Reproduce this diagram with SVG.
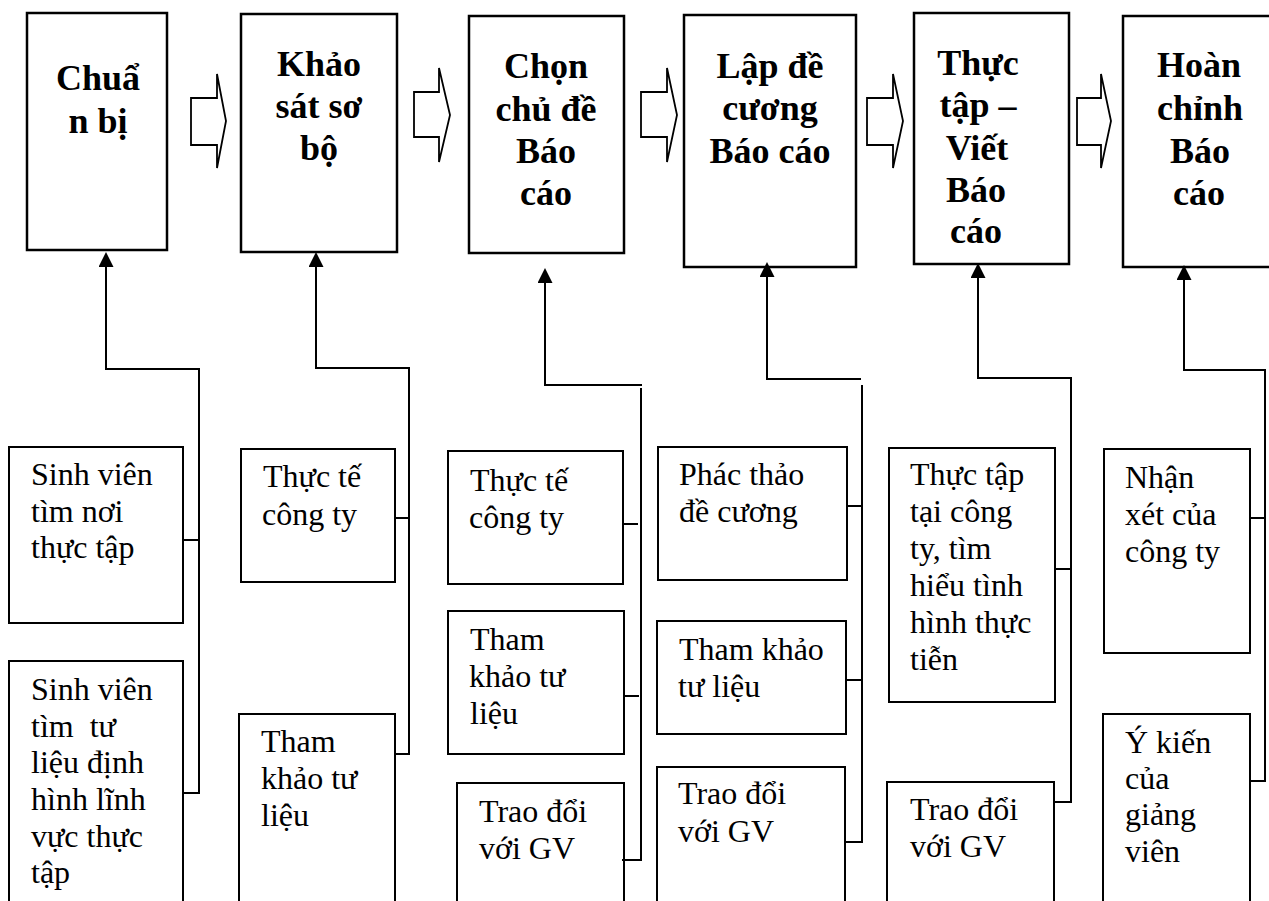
<svg xmlns="http://www.w3.org/2000/svg" width="1269" height="901" viewBox="0 0 1269 901">
<style>
.top{fill:#fff;stroke:#000;stroke-width:2.5}
.box{fill:#fff;stroke:#000;stroke-width:2}
.blk{fill:#fff;stroke:#000;stroke-width:1.8;stroke-linejoin:miter}
.ttl{font-family:"Liberation Serif","Times New Roman",serif;font-weight:bold;font-size:36px;text-anchor:middle;fill:#000}
.txt{font-family:"Liberation Serif","Times New Roman",serif;font-size:32px;fill:#000;white-space:pre}
.ln{fill:none;stroke:#000;stroke-width:2}
</style>
<defs>
<marker id="ah" viewBox="0 0 15 15" refX="0" refY="7.5" markerWidth="15" markerHeight="15" markerUnits="userSpaceOnUse" orient="auto">
<path d="M0,0 L15,7.5 L0,15 z" fill="#000"/>
</marker>
</defs>
<rect width="1269" height="901" fill="#fff"/>

<g id="flow-arrows">
<polygon class="blk" points="191,98 217,98 217,74 226,121 217,168 217,145 191,145"/>
<polygon class="blk" points="414,92 439,92 439,68 450,115 439,162 439,137 414,137"/>
<polygon class="blk" points="641,92 667,92 667,68 677,115 667,162 667,137 641,137"/>
<polygon class="blk" points="867,98 893,98 893,74 903,121 893,168 893,145 867,145"/>
<polygon class="blk" points="1077,98 1101,98 1101,74 1111,121 1101,168 1101,145 1077,145"/>
</g>

<g id="step1">
<rect class="top" x="27" y="13" width="140" height="237"/>
<text class="ttl" x="98" y="90">Chuẩ</text>
<text class="ttl" x="98" y="133">n bị</text>
</g>
<g id="step2">
<rect class="top" x="241" y="14" width="156" height="238"/>
<text class="ttl" x="319" y="76">Khảo</text>
<text class="ttl" x="319" y="118">sát sơ</text>
<text class="ttl" x="319" y="160">bộ</text>
</g>
<g id="step3">
<rect class="top" x="469" y="16" width="155" height="237"/>
<text class="ttl" x="546" y="78">Chọn</text>
<text class="ttl" x="546" y="121">chủ đề</text>
<text class="ttl" x="546" y="163">Báo</text>
<text class="ttl" x="546" y="205">cáo</text>
</g>
<g id="step4">
<rect class="top" x="684" y="15" width="172" height="252"/>
<text class="ttl" x="770" y="78">Lập đề</text>
<text class="ttl" x="770" y="120">cương</text>
<text class="ttl" x="770" y="163">Báo cáo</text>
</g>
<g id="step5">
<rect class="top" x="914" y="13" width="155" height="251"/>
<text class="ttl" x="978" y="75">Thực</text>
<text class="ttl" x="978" y="117">tập –</text>
<text class="ttl" x="977" y="160">Viết</text>
<text class="ttl" x="976" y="202">Báo</text>
<text class="ttl" x="976" y="243">cáo</text>
</g>
<g id="step6">
<rect class="top" x="1123" y="16" width="155" height="251"/>
<text class="ttl" x="1199" y="77">Hoàn</text>
<text class="ttl" x="1200" y="120">chỉnh</text>
<text class="ttl" x="1200" y="163">Báo</text>
<text class="ttl" x="1199" y="205">cáo</text>
</g>

<g id="c1a">
<rect class="box" x="9" y="447" width="174" height="176"/>
<text class="txt" x="31" y="485">Sinh viên</text>
<text class="txt" x="31" y="522">tìm nơi</text>
<text class="txt" x="31" y="558">thực tập</text>
</g>
<g id="c1b">
<rect class="box" x="9" y="661" width="174" height="260"/>
<text class="txt" x="31" y="700">Sinh viên</text>
<text class="txt" x="31" y="737">tìm  tư</text>
<text class="txt" x="31" y="773">liệu định</text>
<text class="txt" x="31" y="810">hình lĩnh</text>
<text class="txt" x="31" y="847">vực thực</text>
<text class="txt" x="31" y="883">tập</text>
</g>

<g id="c2a">
<rect class="box" x="241" y="449" width="154" height="133"/>
<text class="txt" x="263" y="487">Thực tế</text>
<text class="txt" x="262" y="525">công ty</text>
</g>
<g id="c2b">
<rect class="box" x="239" y="714" width="156" height="210"/>
<text class="txt" x="261" y="752">Tham</text>
<text class="txt" x="261" y="789">khảo tư</text>
<text class="txt" x="261" y="826">liệu</text>
</g>

<g id="c3a">
<rect class="box" x="448" y="451" width="175" height="133"/>
<text class="txt" x="470" y="491">Thực tế</text>
<text class="txt" x="469" y="528">công ty</text>
</g>
<g id="c3b">
<rect class="box" x="448" y="611" width="176" height="143"/>
<text class="txt" x="470" y="650">Tham</text>
<text class="txt" x="469" y="687">khảo tư</text>
<text class="txt" x="470" y="724">liệu</text>
</g>
<g id="c3c">
<rect class="box" x="457" y="783" width="167" height="140"/>
<text class="txt" x="479" y="822">Trao đổi</text>
<text class="txt" x="479" y="859">với GV</text>
</g>

<g id="c4a">
<rect class="box" x="658" y="447" width="189" height="133"/>
<text class="txt" x="679" y="485">Phác thảo</text>
<text class="txt" x="679" y="522">đề cương</text>
</g>
<g id="c4b">
<rect class="box" x="657" y="621" width="189" height="113"/>
<text class="txt" x="679" y="660">Tham khảo</text>
<text class="txt" x="678" y="697">tư liệu</text>
</g>
<g id="c4c">
<rect class="box" x="657" y="767" width="188" height="160"/>
<text class="txt" x="678" y="804">Trao đổi</text>
<text class="txt" x="678" y="842">với GV</text>
</g>

<g id="c5a">
<rect class="box" x="889" y="448" width="166" height="254"/>
<text class="txt" x="910" y="485">Thực tập</text>
<text class="txt" x="910" y="522">tại công</text>
<text class="txt" x="910" y="559">ty, tìm</text>
<text class="txt" x="910" y="596">hiểu tình</text>
<text class="txt" x="910" y="633">hình thực</text>
<text class="txt" x="910" y="670">tiễn</text>
</g>
<g id="c5b">
<rect class="box" x="887" y="782" width="167" height="140"/>
<text class="txt" x="910" y="820">Trao đổi</text>
<text class="txt" x="910" y="857">với GV</text>
</g>

<g id="c6a">
<rect class="box" x="1104" y="449" width="146" height="204"/>
<text class="txt" x="1125" y="488">Nhận</text>
<text class="txt" x="1125" y="525">xét của</text>
<text class="txt" x="1125" y="562">công ty</text>
</g>
<g id="c6b">
<rect class="box" x="1103" y="714" width="147" height="210"/>
<text class="txt" x="1125" y="753">Ý kiến</text>
<text class="txt" x="1125" y="789">của</text>
<text class="txt" x="1125" y="825">giảng</text>
<text class="txt" x="1125" y="862">viên</text>
</g>

<g id="connectors">
<path class="ln" d="M183,793 H199 V369 H106 V267" marker-end="url(#ah)"/>
<path class="ln" d="M183,540 H199"/>
<path class="ln" d="M395,754 H409 V368 H316 V267" marker-end="url(#ah)"/>
<path class="ln" d="M395,518 H409"/>
<path class="ln" d="M642,385 H545 V283" marker-end="url(#ah)"/>
<path class="ln" d="M641,388 V860"/>
<path class="ln" d="M623,524 H638"/>
<path class="ln" d="M624,696 H639"/>
<path class="ln" d="M622,860 H642"/>
<path class="ln" d="M861,379 H767 V277" marker-end="url(#ah)"/>
<path class="ln" d="M862,385 V843"/>
<path class="ln" d="M846,506 H862"/>
<path class="ln" d="M846,680 H862"/>
<path class="ln" d="M845,842 H862"/>
<path class="ln" d="M1054,802 H1071 V378 H978 V278" marker-end="url(#ah)"/>
<path class="ln" d="M1055,569 H1071"/>
<path class="ln" d="M1250,781 H1265 V370 H1184 V280" marker-end="url(#ah)"/>
<path class="ln" d="M1250,518 H1265"/>
</g>
</svg>
